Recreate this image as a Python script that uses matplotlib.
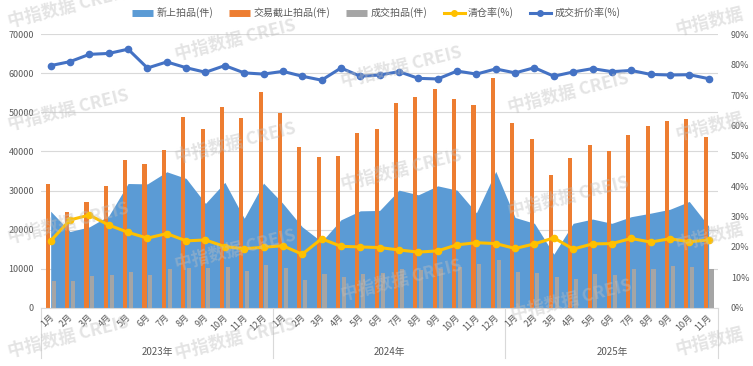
import matplotlib
matplotlib.use("Agg")
import matplotlib.pyplot as plt
import matplotlib.transforms as mtransforms
from matplotlib.lines import Line2D
import numpy as np

plt.rcParams['font.family'] = ['Noto Sans CJK SC', 'DejaVu Sans']

months = ["1月", "2月", "3月", "4月", "5月", "6月", "7月", "8月", "9月", "10月", "11月", "12月"]
years = ["2023年", "2024年", "2025年"]
year_counts = [12, 12, 11]
month_labels = months + months + months[:11]

new_listed = [24700, 19500, 20700, 23500, 31800, 31700, 34800, 33100, 26700, 32100, 22900, 31900,
              26700, 20700, 16900, 22500, 24800, 24900, 30100, 28900, 31200, 30100, 24300, 34900,
              23100, 21600, 13700, 21600, 22700, 21600, 23300, 24200, 25200, 27200, 20900]
closed_auction = [31600, 24600, 27100, 31100, 37800, 36800, 40400, 48900, 45700, 51500, 48500, 55300,
                  49800, 41100, 38700, 38900, 44700, 45700, 52500, 53900, 55900, 53400, 51800, 58900,
                  47300, 43100, 34000, 38300, 41700, 40000, 44100, 46500, 47800, 48200, 43700]
deals = [6900, 6900, 8100, 8300, 9100, 8300, 9800, 10200, 10200, 10400, 9500, 11000,
         10200, 7100, 8700, 7800, 8700, 9000, 9900, 9600, 9800, 10300, 11100, 12300,
         9100, 8800, 7800, 7400, 8700, 8400, 9900, 9900, 10800, 10300, 9800]
clear_rate = [22.0, 28.9, 30.5, 27.2, 24.8, 22.9, 24.4, 22.0, 22.3, 20.1, 19.4, 19.9,
              20.4, 17.6, 22.7, 20.2, 20.0, 19.8, 19.0, 18.3, 18.7, 20.7, 21.4, 21.1,
              19.5, 21.0, 23.0, 19.3, 21.0, 21.1, 22.8, 21.6, 22.7, 21.7, 22.3]
discount_rate = [79.7, 81.0, 83.4, 83.7, 85.1, 78.9, 80.9, 79.0, 77.5, 79.7, 77.3, 76.9,
                 77.8, 76.2, 74.9, 78.9, 76.2, 76.6, 77.7, 75.5, 75.3, 77.9, 76.9, 78.6,
                 77.3, 79.0, 76.2, 77.6, 78.7, 77.7, 78.1, 76.8, 76.6, 76.7, 75.4]

series_names = ["新上拍品(件)", "交易截止拍品(件)", "成交拍品(件)", "清仓率(%)", "成交折价率(%)"]

C_AREA = "#5B9BD5"
C_ORANGE = "#ED7D31"
C_GRAY = "#A5A5A5"
C_YELLOW = "#FFC000"
C_BLUE = "#4472C4"
TXT = "#595959"
GRID = "#D9D9D9"

W, H = 753, 366
fig = plt.figure(figsize=(W / 100, H / 100), dpi=100)
ax = fig.add_axes([41 / W, 1 - 307.7 / H, (718.3 - 41) / W, (307.7 - 34.3) / H])
ax2 = ax.twinx()

n = len(month_labels)
x = np.arange(n)

ax.fill_between(x, 0, new_listed, color=C_AREA, lw=0, zorder=1)
ax.bar(x - 0.15, closed_auction, width=0.21, color=C_ORANGE, zorder=2)
ax.bar(x + 0.15, deals, width=0.21, color=C_GRAY, zorder=2)

ax2.plot(x, clear_rate, color=C_YELLOW, lw=2.2, marker='o', ms=4.5, zorder=3)
ax2.plot(x, discount_rate, color=C_BLUE, lw=2.2, marker='o', ms=4.5, zorder=3)

ax.set_xlim(-0.5, n - 0.5)
ax.set_ylim(0, 70000)
ax2.set_ylim(0, 90)
ax.set_yticks(np.arange(0, 70001, 10000))
ax2.set_yticks(np.arange(0, 91, 10))
ax2.set_yticklabels([f"{v}%" for v in range(0, 91, 10)])
ax.yaxis.grid(True, color=GRID, lw=0.8)
ax.set_axisbelow(True)
for a in (ax, ax2):
    for s in a.spines.values():
        s.set_visible(False)
    a.tick_params(axis='both', length=0, colors=TXT, labelsize=6.5)
ax.spines['bottom'].set_visible(True)
ax.spines['bottom'].set_color(GRID)
ax.spines['bottom'].set_zorder(5)
ax.tick_params(axis='y', pad=5)
ax2.tick_params(axis='y', pad=9)
ax.set_xticks([])

# month labels
for i, lab in enumerate(month_labels):
    tr = mtransforms.offset_copy(ax.get_xaxis_transform(), fig=fig, x=1.5 * 0.72, y=-8 * 0.72, units='points')
    ax.text(i, 0, lab, transform=tr, rotation=45, rotation_mode='anchor', ha='right', va='center',
            fontsize=6.5, color=TXT)

# year groups and separators
sep_tr = ax.get_xaxis_transform()
bounds = [-0.5]
for cnt in year_counts:
    bounds.append(bounds[-1] + cnt)
for b in bounds:
    ax.add_line(Line2D([b, b], [0, -50.3 / 273.4], transform=sep_tr, color=GRID, lw=0.8, clip_on=False))
for yi, yl in enumerate(years):
    cx = (bounds[yi] + bounds[yi + 1]) / 2
    ax.text(cx, -(352.5 - 307.7) / 273.4, yl, transform=sep_tr, ha='center', va='center',
            fontsize=7, color=TXT)

# legend
handles = [
    Line2D([0], [0], color=C_AREA, lw=5, solid_capstyle='butt'),
    Line2D([0], [0], color=C_ORANGE, lw=5, solid_capstyle='butt'),
    Line2D([0], [0], color=C_GRAY, lw=5, solid_capstyle='butt'),
    Line2D([0], [0], color=C_YELLOW, lw=2.2, marker='o', ms=4),
    Line2D([0], [0], color=C_BLUE, lw=2.2, marker='o', ms=4),
]
leg = fig.legend(handles, series_names, loc='center', bbox_to_anchor=(376 / W, 1 - 13 / H), ncol=5,
                 frameon=False, fontsize=7.2, handlelength=2.1, handletextpad=0.35, columnspacing=1.6,
                 labelcolor=TXT)

# watermarks
wm_full = [(10, 27), (10, 130), (10, 243), (10, 357),
           (177, 60), (177, 163), (177, 270), (177, 359),
           (343, 87), (343, 190), (343, 300),
           (510, 113), (510, 217), (513, 320)]
wm_short = [(677, 35), (677, 140), (677, 250), (677, 355)]
for (px, py) in wm_full:
    fig.text(px / W, 1 - py / H, "中指数据 CREIS", rotation=14, rotation_mode='anchor', ha='left',
             va='baseline', fontsize=12.5, fontweight='bold', color='#BFBFBF', alpha=0.42, zorder=10)
for (px, py) in wm_short:
    fig.text(px / W, 1 - py / H, "中指数据", rotation=14, rotation_mode='anchor', ha='left',
             va='baseline', fontsize=12.5, fontweight='bold', color='#BFBFBF', alpha=0.42, zorder=10)

fig.savefig("out.png", dpi=100)
